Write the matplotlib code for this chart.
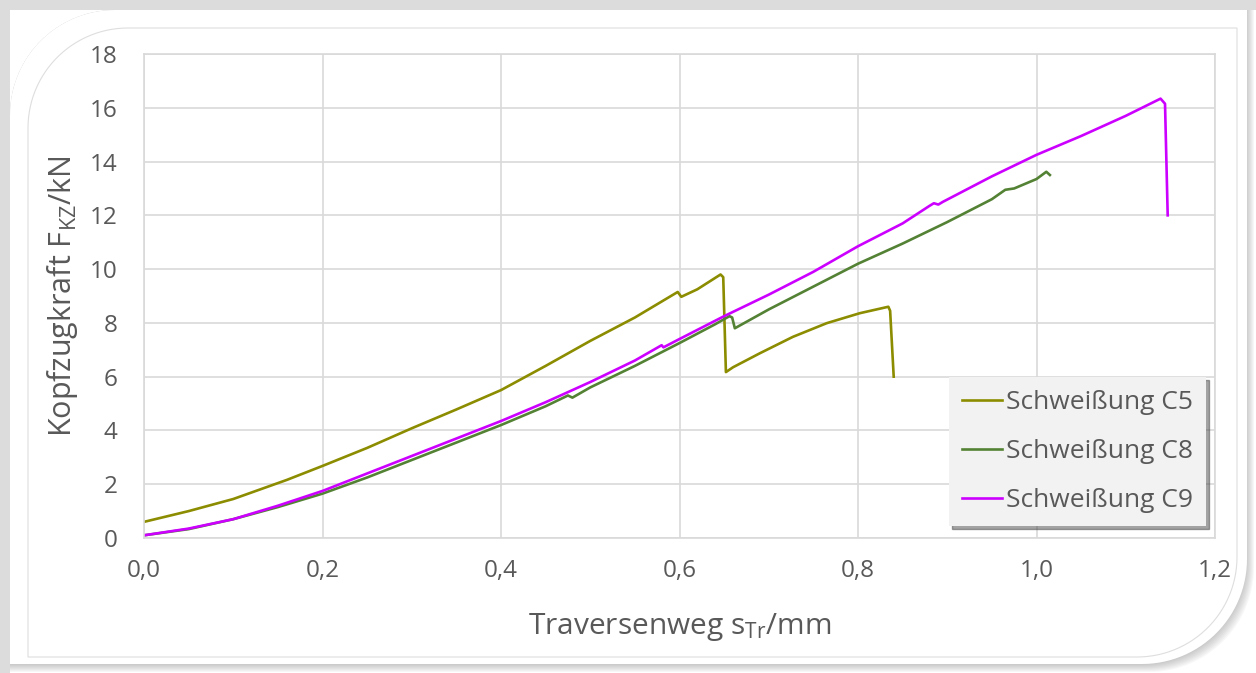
import numpy as np
import matplotlib
matplotlib.use("Agg")
import matplotlib.pyplot as plt
from matplotlib.patches import Polygon

plt.rcParams['font.family'] = ['Open Sans', 'DejaVu Sans']
plt.rcParams['mathtext.default'] = 'regular'

# data (x in mm, y in kN)
c5_x = [0.0, 0.05, 0.1, 0.16, 0.2, 0.25, 0.3, 0.35, 0.4, 0.45, 0.5, 0.55, 0.598,
        0.602, 0.62, 0.646, 0.649, 0.652, 0.66, 0.69, 0.727, 0.765, 0.802, 0.834, 0.836, 0.840]
c5_y = [0.6, 1.0, 1.45, 2.16, 2.68, 3.35, 4.08, 4.78, 5.5, 6.4, 7.33, 8.2, 9.15,
        8.97, 9.25, 9.8, 9.7, 6.17, 6.35, 6.87, 7.48, 7.99, 8.36, 8.6, 8.45, 6.0]

c8_x = [0.0, 0.05, 0.1, 0.15, 0.2, 0.25, 0.3, 0.35, 0.4, 0.45, 0.475, 0.48, 0.5,
        0.55, 0.6, 0.64, 0.656, 0.659, 0.662, 0.7, 0.75, 0.8, 0.85, 0.9, 0.95,
        0.965, 0.975, 1.0, 1.011, 1.015]
c8_y = [0.1, 0.33, 0.7, 1.15, 1.65, 2.25, 2.9, 3.55, 4.2, 4.9, 5.3, 5.22, 5.6,
        6.4, 7.25, 7.95, 8.25, 8.2, 7.8, 8.5, 9.35, 10.2, 10.95, 11.75, 12.6,
        12.95, 13.0, 13.35, 13.62, 13.5]

c9_x = [0.0, 0.05, 0.1, 0.15, 0.2, 0.25, 0.3, 0.35, 0.4, 0.45, 0.5, 0.55, 0.58,
        0.582, 0.6, 0.65, 0.7, 0.75, 0.8, 0.85, 0.88, 0.885, 0.89, 0.895, 0.95,
        1.0, 1.05, 1.1, 1.139, 1.144, 1.147]
c9_y = [0.1, 0.35, 0.7, 1.2, 1.75, 2.4, 3.05, 3.7, 4.35, 5.05, 5.8, 6.6, 7.17,
        7.09, 7.4, 8.25, 9.05, 9.9, 10.85, 11.7, 12.35, 12.45, 12.4, 12.5, 13.45,
        14.25, 14.95, 15.7, 16.34, 16.15, 12.0]

series = [('Schweißung C5', c5_x, c5_y, '#8c8c00'),
          ('Schweißung C8', c8_x, c8_y, '#548235'),
          ('Schweißung C9', c9_x, c9_y, '#cc00ff')]

W, H = 1256, 673
fig = plt.figure(figsize=(W / 100, H / 100), dpi=100, facecolor='white')

# background frame (card with rounded corners and shadow)
bg = fig.add_axes([0, 0, 1, 1], zorder=0)
bg.set_xlim(0, W)
bg.set_ylim(H, 0)
bg.axis('off')


def card(x0, y0, x1, y1, r):
    t = np.linspace(0, np.pi / 2, 30)
    tl = np.column_stack([x0 + r - r * np.cos(t), y0 + r - r * np.sin(t)])
    br = np.column_stack([x1 - r + r * np.cos(t), y1 - r + r * np.sin(t)])
    pts = np.vstack([tl, [[x1, y0]], br, [[x0, y1]]])
    return pts


bg.add_patch(Polygon([[0, 0], [W, 0], [W, 10], [0, 10]], color='#dcdcdc', lw=0))
bg.add_patch(Polygon([[0, 0], [10, 0], [10, H], [0, H]], color='#dcdcdc', lw=0))
for k in range(8, 0, -1):
    bg.add_patch(Polygon(card(10, 10, 1246 + k, 664 + k, 105), color='#808080',
                         alpha=0.06, lw=0))
bg.add_patch(Polygon(card(10, 10, 1247, 664, 105), color='white', lw=0))
bg.add_patch(Polygon(card(28, 28, 1237, 657, 100), fill=False, ec='#dedede', lw=0.8))

ax = fig.add_axes([144 / W, 1 - 538 / H, (1215 - 144) / W, (538 - 54) / H], zorder=1)
ax.set_facecolor('none')

for name, xs, ys, col in series:
    ax.plot(xs, ys, color=col, lw=1.9, label=name, solid_joinstyle='round')

ax.set_xlim(0, 1.2)
ax.set_ylim(0, 18)
ax.set_xticks(np.arange(0, 1.21, 0.2))
ax.set_xticklabels([f'{v:.1f}'.replace('.', ',') for v in np.arange(0, 1.21, 0.2)])
ax.set_yticks(range(0, 19, 2))
ax.grid(True, color='#d9d9d9', lw=1.2)
ax.set_axisbelow(True)
for sp in ax.spines.values():
    sp.set_color('#d9d9d9')
    sp.set_linewidth(1.2)
ax.tick_params(length=0, labelsize=17.5, colors='#595959')
ax.tick_params(axis='y', pad=19)
ax.tick_params(axis='x', pad=15)

ax.set_xlabel(r'Traversenweg s$_{Tr}$/mm', fontsize=21.5, color='#595959', labelpad=20)
ax.set_ylabel(r'Kopfzugkraft F$_{KZ}$/kN', fontsize=22, color='#595959', labelpad=7)

leg = ax.legend(loc='lower right', bbox_to_anchor=(0.9916, 0.0248), borderaxespad=0,
                fontsize=19, frameon=True, fancybox=False, shadow=True,
                facecolor='#f2f2f2', edgecolor='none', framealpha=1,
                handlelength=1.5, handletextpad=0.15, labelspacing=0.9,
                borderpad=0.5)
for t in leg.get_texts():
    t.set_color('#595959')

fig.savefig('out.png', dpi=100, facecolor='white')
